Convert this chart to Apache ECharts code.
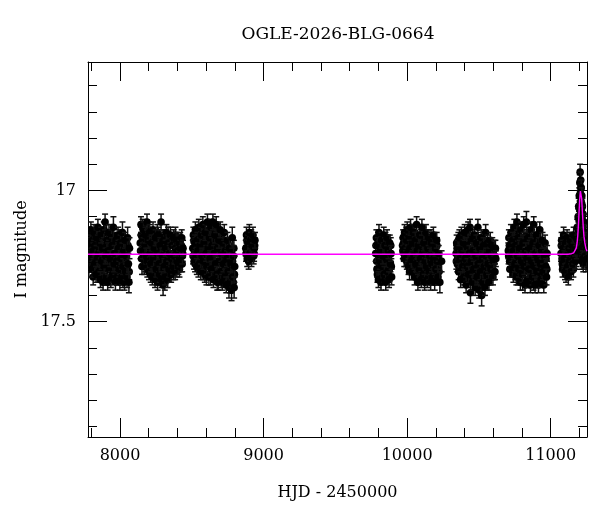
<!DOCTYPE html>
<html lang="en">
<head>
    <meta charset="UTF-8">
    <title>OGLE-2026-BLG-0664</title>
    <script src="https://cdn.jsdelivr.net/npm/echarts@6/dist/echarts.min.js"></script>
    <style>
        html, body { margin: 0; padding: 0; background: #fff; }
        #chart { width: 600px; height: 512px; }
    </style>
</head>
<body>
<div id="chart"></div>
<script type="text/javascript">
    // photometry, one array per observing season: [HJD-2450000, I mag, error]
    var season1 = [[7781,17.22,0.03],[7785,17.17,0.03],[7789,17.27,0.03],[7793,17.20,0.03],[7797,17.15,0.03],[7802,17.25,0.03],[7806,17.30,0.03],[7810,17.19,0.03],[7815,17.23,0.03],[7819,17.16,0.03],[7824,17.28,0.03],[7828,17.21,0.03],[7833,17.32,0.03],[7837,17.18,0.03],[7842,17.26,0.03],[7846,17.14,0.03],[7851,17.24,0.03],[7855,17.31,0.03],[7860,17.20,0.03],[7864,17.34,0.03],[7869,17.17,0.03],[7873,17.27,0.03],[7878,17.22,0.03],[7882,17.35,0.03],[7887,17.15,0.03],[7891,17.29,0.03],[7896,17.12,0.03],[7900,17.25,0.03],[7905,17.33,0.03],[7909,17.19,0.03],[7914,17.35,0.03],[7918,17.23,0.03],[7923,17.16,0.03],[7927,17.30,0.03],[7932,17.26,0.03],[7936,17.34,0.03],[7941,17.18,0.03],[7945,17.21,0.03],[7950,17.32,0.03],[7954,17.14,0.04],[7959,17.28,0.03],[7963,17.24,0.03],[7968,17.35,0.03],[7972,17.19,0.03],[7977,17.27,0.03],[7981,17.33,0.03],[7986,17.17,0.03],[7990,17.22,0.03],[7995,17.30,0.03],[7999,17.35,0.03],[8004,17.20,0.03],[8008,17.26,0.03],[8013,17.33,0.03],[8017,17.16,0.04],[8022,17.29,0.03],[8026,17.23,0.03],[8031,17.35,0.03],[8035,17.19,0.03],[8040,17.31,0.03],[8044,17.25,0.03],[8049,17.33,0.04],[8053,17.18,0.04],[8058,17.28,0.04],[8062,17.35,0.04],[8066,17.22,0.04]];
    var season2 = [[8141,17.20,0.03],[8146,17.13,0.03],[8150,17.26,0.03],[8155,17.18,0.03],[8160,17.23,0.03],[8164,17.15,0.03],[8169,17.29,0.03],[8174,17.21,0.03],[8178,17.17,0.03],[8183,17.25,0.03],[8188,17.12,0.03],[8192,17.27,0.03],[8197,17.19,0.03],[8202,17.31,0.03],[8206,17.16,0.03],[8211,17.24,0.03],[8216,17.28,0.03],[8220,17.20,0.03],[8225,17.33,0.03],[8230,17.15,0.03],[8234,17.26,0.03],[8239,17.22,0.03],[8244,17.34,0.03],[8248,17.18,0.03],[8253,17.30,0.03],[8258,17.24,0.03],[8262,17.35,0.03],[8267,17.17,0.03],[8272,17.28,0.03],[8276,17.32,0.03],[8281,17.21,0.03],[8286,17.12,0.03],[8290,17.34,0.03],[8295,17.25,0.03],[8300,17.36,0.04],[8304,17.19,0.03],[8309,17.29,0.03],[8314,17.33,0.03],[8318,17.22,0.03],[8323,17.16,0.03],[8328,17.27,0.03],[8332,17.34,0.03],[8337,17.20,0.03],[8342,17.30,0.03],[8346,17.24,0.03],[8351,17.17,0.03],[8356,17.32,0.03],[8360,17.26,0.03],[8365,17.21,0.03],[8370,17.29,0.03],[8374,17.18,0.03],[8379,17.25,0.03],[8384,17.31,0.03],[8388,17.22,0.03],[8393,17.19,0.03],[8398,17.27,0.03],[8402,17.23,0.03],[8407,17.29,0.03],[8412,17.20,0.03],[8416,17.26,0.03],[8421,17.22,0.03],[8426,17.28,0.03],[8430,17.18,0.03],[8435,17.25,0.03],[8439,17.22,0.03]];
    var season3 = [[8507,17.22,0.03],[8511,17.17,0.03],[8516,17.27,0.03],[8521,17.20,0.03],[8525,17.15,0.03],[8530,17.25,0.03],[8535,17.29,0.03],[8539,17.19,0.03],[8544,17.23,0.03],[8549,17.14,0.03],[8553,17.28,0.03],[8558,17.21,0.03],[8563,17.31,0.03],[8567,17.17,0.03],[8572,17.25,0.03],[8577,17.13,0.03],[8581,17.27,0.03],[8586,17.20,0.03],[8591,17.32,0.03],[8595,17.16,0.03],[8600,17.24,0.03],[8605,17.29,0.03],[8609,17.12,0.03],[8614,17.22,0.03],[8619,17.33,0.03],[8623,17.18,0.03],[8628,17.26,0.03],[8633,17.14,0.03],[8637,17.30,0.03],[8642,17.21,0.03],[8647,17.12,0.03],[8651,17.34,0.03],[8656,17.24,0.03],[8661,17.17,0.03],[8665,17.28,0.03],[8670,17.13,0.03],[8675,17.32,0.03],[8679,17.22,0.03],[8684,17.35,0.03],[8689,17.19,0.03],[8693,17.27,0.03],[8698,17.15,0.03],[8703,17.31,0.03],[8707,17.24,0.03],[8712,17.35,0.03],[8717,17.20,0.03],[8721,17.28,0.03],[8726,17.16,0.03],[8731,17.33,0.03],[8735,17.23,0.03],[8740,17.36,0.03],[8745,17.26,0.03],[8749,17.19,0.03],[8754,17.31,0.03],[8759,17.37,0.04],[8763,17.22,0.04],[8768,17.35,0.04],[8773,17.28,0.04],[8777,17.38,0.04],[8782,17.18,0.04],[8786,17.33,0.04],[8791,17.25,0.04],[8795,17.37,0.04],[8799,17.29,0.04]];
    var season4 = [[8876,17.22,0.03],[8881,17.17,0.03],[8886,17.26,0.03],[8891,17.20,0.03],[8896,17.27,0.03],[8901,17.16,0.03],[8906,17.24,0.03],[8911,17.19,0.03],[8916,17.26,0.03],[8921,17.21,0.03],[8926,17.17,0.03],[8931,17.25,0.03],[8936,17.22,0.03],[8940,17.19,0.03]];
    var season5 = [[9781,17.24,0.03],[9786,17.18,0.03],[9790,17.30,0.03],[9795,17.21,0.03],[9800,17.34,0.03],[9804,17.16,0.03],[9809,17.27,0.03],[9814,17.23,0.03],[9818,17.35,0.03],[9823,17.19,0.03],[9828,17.29,0.03],[9832,17.25,0.03],[9837,17.17,0.03],[9842,17.32,0.03],[9846,17.21,0.03],[9851,17.35,0.03],[9856,17.26,0.03],[9860,17.18,0.03],[9865,17.31,0.03],[9870,17.23,0.03],[9874,17.34,0.03],[9879,17.20,0.03],[9884,17.28,0.03],[9888,17.24,0.03],[9892,17.33,0.03]];
    var season6 = [[9968,17.21,0.03],[9972,17.18,0.03],[9977,17.24,0.03],[9982,17.16,0.03],[9987,17.22,0.03],[9991,17.26,0.03],[9996,17.19,0.03],[10001,17.15,0.03],[10005,17.24,0.03],[10010,17.29,0.03],[10015,17.18,0.03],[10019,17.22,0.03],[10024,17.14,0.03],[10029,17.27,0.03],[10033,17.31,0.03],[10038,17.20,0.03],[10043,17.16,0.03],[10047,17.25,0.03],[10052,17.33,0.03],[10057,17.19,0.03],[10061,17.28,0.03],[10066,17.13,0.03],[10071,17.23,0.03],[10075,17.35,0.03],[10080,17.21,0.03],[10085,17.30,0.03],[10089,17.17,0.03],[10094,17.26,0.03],[10099,17.34,0.03],[10103,17.14,0.03],[10108,17.24,0.03],[10113,17.32,0.03],[10117,17.20,0.03],[10122,17.35,0.03],[10127,17.27,0.03],[10131,17.16,0.03],[10136,17.29,0.03],[10141,17.34,0.03],[10145,17.22,0.03],[10150,17.18,0.03],[10155,17.31,0.03],[10159,17.25,0.03],[10164,17.35,0.03],[10169,17.20,0.03],[10173,17.28,0.03],[10178,17.33,0.03],[10183,17.17,0.03],[10187,17.26,0.03],[10192,17.35,0.03],[10197,17.22,0.03],[10201,17.30,0.03],[10206,17.19,0.03],[10211,17.27,0.03],[10215,17.33,0.03],[10220,17.24,0.03],[10228,17.35,0.04],[10240,17.27,0.04]];
    var season7 = [[10341,17.24,0.03],[10345,17.20,0.03],[10350,17.28,0.03],[10355,17.22,0.03],[10359,17.31,0.03],[10364,17.18,0.03],[10369,17.26,0.03],[10373,17.34,0.03],[10378,17.17,0.03],[10383,17.23,0.03],[10387,17.29,0.03],[10392,17.20,0.03],[10397,17.33,0.03],[10401,17.16,0.03],[10406,17.26,0.03],[10411,17.36,0.03],[10415,17.21,0.03],[10420,17.29,0.03],[10425,17.15,0.03],[10429,17.32,0.03],[10434,17.24,0.03],[10438,17.14,0.03],[10441,17.39,0.04],[10446,17.27,0.03],[10451,17.19,0.03],[10455,17.35,0.03],[10460,17.23,0.03],[10465,17.30,0.03],[10469,17.17,0.03],[10474,17.37,0.03],[10479,17.25,0.03],[10483,17.20,0.03],[10488,17.33,0.03],[10493,17.14,0.03],[10497,17.28,0.03],[10502,17.38,0.03],[10507,17.22,0.03],[10511,17.31,0.03],[10516,17.18,0.03],[10519,17.40,0.04],[10523,17.26,0.03],[10528,17.35,0.03],[10533,17.21,0.03],[10537,17.29,0.03],[10542,17.37,0.03],[10547,17.16,0.03],[10551,17.25,0.03],[10556,17.32,0.03],[10561,17.20,0.03],[10565,17.28,0.03],[10570,17.35,0.03],[10575,17.23,0.03],[10579,17.19,0.03],[10584,17.30,0.03],[10589,17.25,0.03],[10593,17.21,0.03],[10598,17.33,0.03],[10603,17.27,0.03],[10608,17.22,0.03],[10612,17.31,0.03],[10618,17.26,0.03]];
    var season8 = [[10705,17.23,0.03],[10709,17.18,0.03],[10714,17.27,0.03],[10719,17.21,0.03],[10723,17.16,0.03],[10728,17.25,0.03],[10733,17.30,0.03],[10737,17.19,0.03],[10742,17.23,0.03],[10747,17.14,0.03],[10751,17.28,0.03],[10756,17.21,0.03],[10761,17.33,0.03],[10765,17.12,0.03],[10770,17.25,0.03],[10775,17.18,0.03],[10779,17.30,0.03],[10784,17.22,0.03],[10789,17.35,0.03],[10793,17.15,0.03],[10798,17.27,0.03],[10803,17.32,0.03],[10807,17.20,0.03],[10812,17.13,0.03],[10817,17.29,0.03],[10821,17.36,0.03],[10826,17.23,0.03],[10831,17.12,0.04],[10835,17.26,0.03],[10840,17.34,0.03],[10845,17.18,0.03],[10849,17.30,0.03],[10854,17.22,0.03],[10859,17.36,0.03],[10863,17.15,0.03],[10868,17.27,0.03],[10873,17.33,0.03],[10877,17.20,0.03],[10882,17.13,0.03],[10887,17.29,0.03],[10891,17.36,0.03],[10896,17.24,0.03],[10901,17.17,0.03],[10905,17.31,0.03],[10910,17.26,0.03],[10915,17.36,0.03],[10919,17.21,0.03],[10924,17.15,0.03],[10929,17.28,0.03],[10933,17.34,0.03],[10938,17.23,0.03],[10943,17.19,0.03],[10947,17.31,0.03],[10952,17.36,0.03],[10957,17.25,0.03],[10961,17.20,0.03],[10966,17.29,0.03],[10971,17.33,0.03],[10975,17.24,0.03]];
    var season9 = [[11072,17.24,0.03],[11076,17.19,0.03],[11081,17.28,0.03],[11086,17.22,0.03],[11090,17.17,0.03],[11095,17.26,0.03],[11100,17.31,0.03],[11104,17.20,0.03],[11109,17.25,0.03],[11114,17.18,0.03],[11118,17.29,0.03],[11123,17.33,0.03],[11128,17.22,0.03],[11132,17.27,0.03],[11137,17.19,0.03],[11142,17.31,0.03],[11146,17.24,0.03],[11151,17.21,0.03],[11156,17.28,0.03],[11160,17.17,0.03],[11165,17.25,0.03],[11170,17.22,0.03],[11174,17.27,0.03],[11178,17.18,0.03],[11182,17.23,0.03],[11185,17.14,0.03],[11188,17.19,0.03],[11191,17.10,0.03],[11193,17.15,0.03],[11195,17.06,0.03],[11197,17.11,0.03],[11199,17.02,0.03],[11200,17.18,0.03],[11201,17.07,0.03],[11203,16.97,0.03],[11205,16.93,0.03],[11206,17.12,0.03],[11207,17.01,0.03],[11209,16.96,0.03],[11210,17.08,0.03],[11211,17.04,0.03],[11212,17.16,0.03],[11213,16.99,0.03],[11215,17.07,0.03],[11217,17.02,0.03],[11218,17.22,0.03],[11219,17.10,0.03],[11221,17.06,0.03],[11223,17.13,0.03],[11224,17.26,0.03],[11225,17.09,0.03],[11228,17.17,0.03],[11231,17.12,0.03],[11234,17.21,0.03],[11237,17.16,0.03],[11240,17.25,0.03],[11243,17.19,0.03],[11246,17.28,0.03],[11249,17.22,0.03],[11252,17.26,0.03]];

    // the many more points in the dense core of each season: [HJD-2450000, I mag], error 0.03
    var dense1 = [[7783,17.30],[7788,17.24],[7795,17.19],[7800,17.28],[7807,17.22],[7813,17.33],[7818,17.26],[7823,17.18],[7830,17.30],[7835,17.23],[7840,17.20],[7848,17.29],[7853,17.17],[7858,17.26],[7866,17.22],[7871,17.31],[7876,17.18],[7884,17.25],[7889,17.33],[7894,17.21],[7902,17.28],[7907,17.16],[7912,17.30],[7920,17.19],[7925,17.24],[7930,17.33],[7938,17.21],[7943,17.28],[7948,17.17],[7956,17.31],[7961,17.20],[7966,17.26],[7974,17.32],[7979,17.22],[7984,17.29],[7992,17.18],[7997,17.25],[8002,17.31],[8010,17.22],[8015,17.28],[8020,17.34],[8028,17.20],[8033,17.26],[8038,17.30],[8046,17.23],[8051,17.29],[8056,17.21],[8064,17.31]];
    var dense2 = [[8143,17.23],[8148,17.17],[8153,17.29],[8158,17.14],[8162,17.20],[8167,17.25],[8172,17.16],[8176,17.28],[8181,17.21],[8186,17.18],[8190,17.30],[8195,17.23],[8200,17.15],[8204,17.27],[8209,17.20],[8214,17.32],[8218,17.25],[8223,17.18],[8228,17.29],[8232,17.22],[8237,17.31],[8242,17.19],[8246,17.27],[8251,17.21],[8256,17.33],[8260,17.16],[8265,17.24],[8270,17.31],[8274,17.19],[8279,17.27],[8284,17.33],[8288,17.23],[8293,17.18],[8298,17.30],[8302,17.26],[8307,17.21],[8312,17.35],[8316,17.27],[8321,17.20],[8326,17.31],[8330,17.24],[8335,17.17],[8340,17.27],[8344,17.32],[8349,17.21],[8354,17.26],[8358,17.19],[8363,17.29],[8368,17.24],[8372,17.31],[8377,17.21],[8382,17.27],[8386,17.17],[8391,17.24],[8396,17.30],[8400,17.20],[8405,17.26],[8410,17.23],[8414,17.30],[8419,17.19],[8424,17.25],[8428,17.21],[8433,17.28],[8437,17.24]];
    var dense3 = [[8509,17.25],[8514,17.19],[8518,17.23],[8523,17.28],[8528,17.18],[8532,17.22],[8537,17.26],[8542,17.17],[8546,17.30],[8551,17.21],[8556,17.25],[8560,17.16],[8565,17.29],[8570,17.22],[8574,17.18],[8579,17.31],[8584,17.24],[8588,17.15],[8593,17.28],[8598,17.21],[8602,17.33],[8607,17.19],[8612,17.26],[8616,17.16],[8621,17.29],[8626,17.22],[8630,17.33],[8635,17.18],[8640,17.26],[8644,17.31],[8649,17.20],[8654,17.28],[8658,17.15],[8663,17.32],[8668,17.24],[8672,17.19],[8677,17.35],[8682,17.27],[8686,17.21],[8691,17.31],[8696,17.24],[8700,17.18],[8705,17.34],[8710,17.28],[8714,17.22],[8719,17.32],[8724,17.25],[8728,17.19],[8733,17.30],[8738,17.27],[8742,17.21],[8747,17.34],[8752,17.24],[8756,17.29],[8761,17.33],[8766,17.26],[8770,17.36],[8775,17.23],[8780,17.31],[8784,17.27],[8789,17.35],[8793,17.22],[8797,17.32]];
    var dense4 = [[8878,17.24],[8884,17.19],[8889,17.23],[8894,17.21],[8899,17.25],[8904,17.20],[8909,17.23],[8914,17.18],[8919,17.24],[8924,17.22],[8929,17.20],[8934,17.24],[8938,17.21]];
    var dense5 = [[9783,17.21],[9788,17.27],[9793,17.32],[9797,17.19],[9802,17.25],[9807,17.30],[9811,17.20],[9816,17.28],[9821,17.24],[9825,17.33],[9830,17.21],[9835,17.27],[9839,17.23],[9844,17.29],[9849,17.19],[9853,17.31],[9858,17.23],[9862,17.28],[9867,17.20],[9872,17.26],[9876,17.30],[9881,17.24],[9886,17.21],[9890,17.29]];
    var dense6 = [[9970,17.23],[9975,17.20],[9980,17.26],[9984,17.19],[9989,17.23],[9994,17.17],[9998,17.27],[10003,17.21],[10008,17.18],[10012,17.25],[10017,17.31],[10022,17.20],[10026,17.28],[10031,17.17],[10036,17.24],[10040,17.29],[10045,17.21],[10050,17.27],[10054,17.16],[10059,17.31],[10064,17.23],[10068,17.19],[10073,17.29],[10078,17.25],[10082,17.33],[10087,17.21],[10092,17.28],[10096,17.18],[10101,17.31],[10106,17.22],[10110,17.27],[10115,17.17],[10120,17.25],[10124,17.31],[10129,17.21],[10134,17.33],[10138,17.24],[10143,17.19],[10148,17.28],[10152,17.32],[10157,17.22],[10162,17.29],[10166,17.18],[10171,17.25],[10176,17.31],[10180,17.22],[10185,17.29],[10190,17.19],[10194,17.27],[10199,17.33],[10204,17.24],[10208,17.21],[10213,17.29],[10218,17.26],[10222,17.31]];
    var dense7 = [[10343,17.27],[10348,17.22],[10352,17.26],[10357,17.19],[10362,17.29],[10366,17.23],[10371,17.21],[10376,17.30],[10380,17.26],[10385,17.19],[10390,17.32],[10394,17.24],[10399,17.28],[10404,17.21],[10408,17.31],[10413,17.18],[10418,17.25],[10422,17.34],[10427,17.22],[10432,17.28],[10436,17.19],[10443,17.31],[10448,17.23],[10453,17.29],[10457,17.18],[10462,17.33],[10467,17.26],[10471,17.21],[10476,17.30],[10481,17.35],[10485,17.23],[10490,17.27],[10495,17.19],[10499,17.32],[10504,17.25],[10509,17.35],[10513,17.21],[10518,17.29],[10521,17.23],[10526,17.31],[10530,17.25],[10535,17.33],[10540,17.19],[10544,17.28],[10549,17.22],[10553,17.35],[10558,17.26],[10563,17.23],[10567,17.31],[10572,17.27],[10577,17.21],[10581,17.33],[10586,17.28],[10591,17.23],[10595,17.29],[10600,17.24],[10605,17.31],[10610,17.25],[10615,17.22]];
    var dense8 = [[10707,17.25],[10712,17.21],[10716,17.30],[10721,17.24],[10726,17.19],[10730,17.27],[10735,17.22],[10740,17.32],[10744,17.17],[10749,17.26],[10754,17.31],[10758,17.19],[10763,17.27],[10768,17.22],[10772,17.33],[10777,17.16],[10782,17.26],[10786,17.31],[10791,17.20],[10796,17.29],[10800,17.24],[10805,17.35],[10810,17.18],[10814,17.26],[10819,17.31],[10824,17.20],[10828,17.28],[10833,17.17],[10838,17.31],[10842,17.24],[10847,17.34],[10852,17.20],[10856,17.28],[10861,17.23],[10866,17.32],[10870,17.18],[10875,17.26],[10880,17.35],[10884,17.22],[10889,17.31],[10894,17.19],[10898,17.28],[10903,17.24],[10908,17.34],[10912,17.20],[10917,17.29],[10922,17.25],[10926,17.33],[10931,17.19],[10936,17.30],[10940,17.26],[10945,17.22],[10950,17.33],[10954,17.28],[10959,17.23],[10964,17.31],[10968,17.26],[10973,17.30]];
    var dense9 = [[11074,17.21],[11079,17.26],[11083,17.30],[11088,17.20],[11093,17.24],[11097,17.28],[11102,17.23],[11107,17.32],[11111,17.21],[11116,17.26],[11121,17.24],[11125,17.29],[11130,17.19],[11135,17.25],[11139,17.28],[11144,17.21],[11149,17.27],[11153,17.24],[11158,17.30],[11163,17.20],[11167,17.27],[11172,17.24],[11176,17.21],[11180,17.26],[11183,17.20],[11196,17.14],[11202,17.10],[11204,17.02],[11207,17.20],[11208,17.05],[11210,16.99],[11213,17.24],[11214,17.11],[11216,17.05],[11219,17.27],[11220,17.15],[11222,17.19],[11226,17.14],[11227,17.28],[11229,17.22],[11233,17.16],[11236,17.24],[11239,17.20],[11242,17.23],[11245,17.22],[11248,17.27],[11251,17.21]];
    var DENSE_ERR = 0.03;

    // microlensing model curve
    var modelT   = [7777, 11120, 11145, 11160, 11170, 11178, 11184, 11189, 11193, 11197, 11201, 11204, 11207, 11210, 11213, 11216, 11219, 11223, 11227, 11232, 11238, 11245, 11253];
    var modelMag = [17.243, 17.243, 17.241, 17.238, 17.232, 17.220, 17.200, 17.170, 17.135, 17.090, 17.045, 17.018, 17.002, 16.997, 17.008, 17.032, 17.062, 17.102, 17.140, 17.175, 17.200, 17.220, 17.232];

    // ticks
    var xMajor = [8000, 9000, 10000, 11000];
    var xMinor = [7800, 8200, 8400, 8600, 8800, 9200, 9400, 9600, 9800, 10200, 10400, 10600, 10800, 11200];
    var yMajor = [17, 17.5];
    var yMinor = [16.6, 16.7, 16.8, 16.9, 17.1, 17.2, 17.3, 17.4, 17.6, 17.7, 17.8, 17.9];

    var XMIN = 7777, XMAX = 11253;
    var YMIN = 16.51, YMAX = 17.94;
    var FONT = 'DejaVu Serif';

    var chart = echarts.init(document.getElementById('chart'));

    var dense = [].concat(dense1, dense2, dense3, dense4, dense5, dense6, dense7, dense8, dense9)
        .map(function (p) { return [p[0], p[1], DENSE_ERR]; });
    var points = [].concat(dense, season1, season2, season3, season4, season5,
        season6, season7, season8, season9);
    var model = modelT.map(function (t, i) { return [t, modelMag[i]]; });

    function xAxisOf(pos, ticks, len, labels) {
        return {
            type: 'value', position: pos, min: XMIN, max: XMAX,
            axisLine: { show: labels, lineStyle: { color: '#000', width: 1 } },
            axisTick: { show: true, inside: true, length: len, customValues: ticks,
                lineStyle: { color: '#000', width: 1 } },
            axisLabel: { show: labels && pos === 'bottom', customValues: ticks, margin: 11,
                fontFamily: FONT, fontSize: 16, color: '#000',
                formatter: function (v) { return String(v); } },
            splitLine: { show: false },
            name: (labels && pos === 'bottom') ? 'HJD - 2450000' : '',
            nameLocation: 'middle', nameGap: 48,
            nameTextStyle: { fontFamily: FONT, fontSize: 16, color: '#000' }
        };
    }
    function yAxisOf(pos, ticks, len, labels) {
        return {
            type: 'value', position: pos, inverse: true, min: YMIN, max: YMAX,
            axisLine: { show: labels, lineStyle: { color: '#000', width: 1 } },
            axisTick: { show: true, inside: true, length: len, customValues: ticks,
                lineStyle: { color: '#000', width: 1 } },
            axisLabel: { show: labels && pos === 'left', customValues: ticks, margin: 12,
                fontFamily: FONT, fontSize: 16, color: '#000' },
            splitLine: { show: false },
            name: (labels && pos === 'left') ? 'I magnitude' : '',
            nameLocation: 'middle', nameGap: 57,
            nameTextStyle: { fontFamily: FONT, fontSize: 16, color: '#000' }
        };
    }

    function renderErr(params, api) {
        var t = api.value(0), m = api.value(1), e = api.value(2);
        var a = api.coord([t, m - e]);
        var b = api.coord([t, m + e]);
        var c = api.coord([t, m]);
        var st = { stroke: '#111', lineWidth: 1.5 };
        return {
            type: 'group',
            children: [
                { type: 'line', shape: { x1: a[0], y1: a[1], x2: b[0], y2: b[1] }, style: st },
                { type: 'line', shape: { x1: a[0] - 3, y1: a[1], x2: a[0] + 3, y2: a[1] }, style: st },
                { type: 'line', shape: { x1: b[0] - 3, y1: b[1], x2: b[0] + 3, y2: b[1] }, style: st },
                { type: 'circle', shape: { cx: c[0], cy: c[1], r: 3.8 }, style: { fill: '#000' } }
            ]
        };
    }

    chart.setOption({
        animation: false,
        backgroundColor: '#fff',
        grid: { left: 88, right: 13, top: 62, bottom: 75 },
        graphic: [{
            type: 'text', x: 338, y: 35,
            style: { text: 'OGLE-2026-BLG-0664', textAlign: 'center', textVerticalAlign: 'middle',
                fontFamily: FONT, fontSize: 17, fill: '#000' }
        }],
        xAxis: [
            xAxisOf('bottom', xMajor, 19, true),
            xAxisOf('bottom', xMinor, 9, false),
            xAxisOf('top', xMajor, 19, true),
            xAxisOf('top', xMinor, 9, false)
        ],
        yAxis: [
            yAxisOf('left', yMajor, 19, true),
            yAxisOf('left', yMinor, 9, false),
            yAxisOf('right', yMajor, 19, true),
            yAxisOf('right', yMinor, 9, false)
        ],
        series: [{
            type: 'custom',
            xAxisIndex: 0, yAxisIndex: 0,
            renderItem: renderErr,
            encode: { x: 0, y: 1 },
            clip: true,
            progressive: 0,
            data: points,
            z: 2
        }, {
            type: 'line',
            xAxisIndex: 0, yAxisIndex: 0,
            data: model,
            showSymbol: false,
            lineStyle: { color: '#ff00ff', width: 1.4 },
            z: 5
        }]
    });
</script>
</body>
</html>
